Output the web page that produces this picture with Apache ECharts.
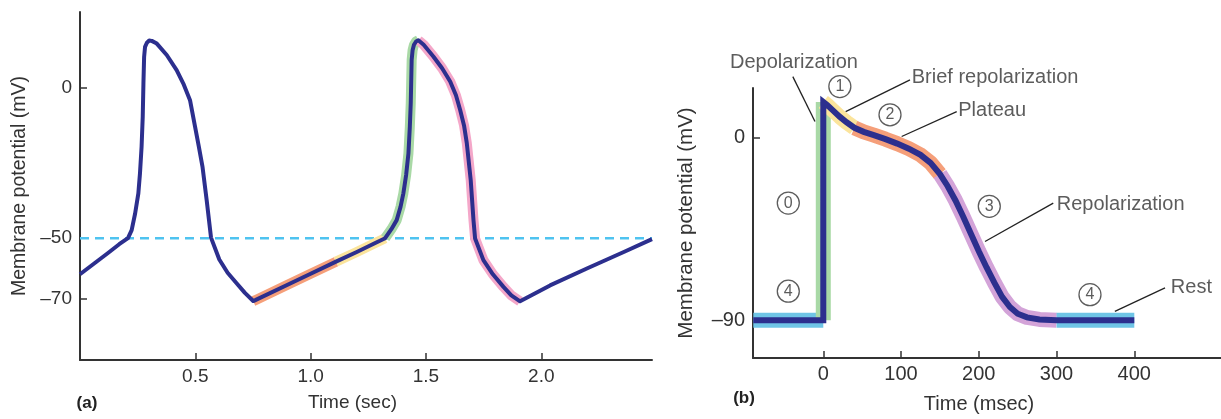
<!DOCTYPE html>
<html><head><meta charset="utf-8">
<script src="https://cdn.jsdelivr.net/npm/echarts@6/dist/echarts.min.js"></script>
<style>html,body{margin:0;padding:0;background:#fff}#c{width:1221px;height:419px}</style>
</head><body><div id="c"></div>
<script>
// ---------- Panel (a): pacemaker action potentials ----------
const aTime = [0,0.06,0.12,0.17,0.208,0.224,0.239,0.253,0.260,0.267,0.272,0.275,0.278,0.282,0.290,0.300,0.311,0.333,0.376,0.419,0.448,0.477,0.499,0.515,0.531,0.549,0.568,0.604,0.640,0.678,0.715,0.751,0.76,0.90,1.00,1.11,1.20,1.28,1.323,1.350,1.373,1.390,1.402,1.414,1.424,1.430,1.434,1.438,1.442,1.448,1.457,1.467,1.490,1.532,1.570,1.605,1.630,1.648,1.665,1.677,1.694,1.706,1.713,1.749,1.790,1.836,1.870,1.908,2.038,2.20,2.36,2.48];
const aPotential = [-62,-58.5,-55,-52,-50,-47.3,-41.8,-35.1,-28.5,-19.6,-9.6,1.4,10.3,13.6,15.0,15.7,15.6,14.7,10.9,5.9,1.4,-4.1,-13.0,-19.5,-26.2,-37.2,-49.8,-57.1,-61.5,-64.9,-68.2,-70.9,-70.6,-65.5,-61.8,-57.8,-54.6,-51.6,-50.0,-47,-44,-39.5,-35.1,-29,-21.8,-13,-5.1,9.3,12.5,14.3,15.4,15.8,14.3,10.4,6.5,2.1,-2.5,-7.3,-12.5,-18.4,-30.7,-44,-50.1,-57.3,-62.0,-66.2,-69.0,-71.0,-65.7,-60.0,-54.5,-50.3];
const aPhaseRanges = [[0.751,1.11],[1.11,1.323],[1.323,1.467],[1.467,1.908]]; // time ranges (sec)
const aThreshold = -50;
const aXRange = [0, 2.48];
const aYRange = [-90.5, 25.2];
const aXTicks = [0.5, 1.0, 1.5, 2.0];
const aYTicks = [0, -50, -70];

// ---------- Panel (b): ventricular action potential ----------
const bTime =      [-90,  0,   0,   5,  12,  21,  30,  40,  52,  65,  80,  95, 110, 125, 138, 150, 160, 170, 180, 190, 200, 210, 220, 230, 240, 250, 262, 278, 300, 400];
const bPotential = [-90,-90,17.5,16,13.5,10.3, 7.5, 4.8, 2.8, 1.2,-0.8,-3.0,-5.5,-8.5,-12.5,-18,-24,-31,-39,-47.5,-56,-64,-71.5,-78.5,-83.5,-86.8,-88.6,-89.6,-90,-90];
const bPhaseIndex = [[0,1],[1,2],[2,7],[7,15],[15,28],[28,29]]; // point index ranges: rest, depol, brief repol, plateau, repol, rest
const bXRange = [-90.4, 511.5];
const bYRange = [-108.6, 24.4];
const bXTicks = [0, 100, 200, 300, 400];
const bYTicks = [0, -90];
const bLabels = ['Depolarization', 'Brief repolarization', 'Plateau', 'Repolarization', 'Rest'];
const bLabelAt = [[-37.7, 37.2], [113.7, 29.6], [173.6, 13.2], [300.2, -33.1], [447, -73.7]];
const bLeaders = [
  [[-39.2, 30], [-10.7, 7.9]],
  [[28.8, 12.8], [111.5, 28.4]],
  [[100.8, 0.5], [171.6, 12.8]],
  [[208, -51.2], [295.8, -32.3]],
  [[375, -85.6], [439.5, -74.1]]
];
const bPhaseNames = ['0', '1', '2', '3', '4', '4'];
const bPhaseAt = [[-45, -32.3], [21.3, 25.1], [85.8, 11.2], [213.5, -33.9], [-45, -75.7], [343, -77.4]];

// ---------- styling ----------
const NAVY = '#2c2f8e';
const TXT = '#333333';
const FONT = "'Liberation Sans', Arial, Helvetica, sans-serif";
const aColors = ['#f59f7a', '#fbe49c', '#a9d9a6', '#f4a7c9'];
const bColors = ['#6fc5e6', '#a9d9a6', '#fbe49c', '#f59f7a', '#d3a3d8', '#6fc5e6'];

const zip = (xs, ys) => xs.map((x, i) => [x, ys[i]]);
const aData = zip(aTime, aPotential);
const bData = zip(bTime, bPotential);
const minus = v => (v < 0 ? '\u2013' + Math.abs(v) : String(v));

function axisCommon(ticks, fmt, margin, fs, nfs) {
  return {
    axisLine: { show: true, onZero: false, lineStyle: { color: TXT, width: 2 } },
    axisTick: { show: true, inside: true, length: 7, customValues: ticks, lineStyle: { color: TXT, width: 1.5 } },
    axisLabel: { customValues: ticks, formatter: fmt, fontSize: fs, color: TXT, fontFamily: FONT, margin: margin },
    splitLine: { show: false },
    nameLocation: 'middle',
    nameTextStyle: { fontSize: nfs, color: TXT, fontFamily: FONT }
  };
}

const series = [];
// threshold
series.push({
  type: 'line', xAxisIndex: 0, yAxisIndex: 0, symbol: 'none', z: 1,
  data: [[aXRange[0], aThreshold], [aXRange[1], aThreshold]],
  lineStyle: { color: '#4fc3f0', width: 2.5, type: [9, 6] }, silent: true
});
// panel a highlight bands
aPhaseRanges.forEach((r, k) => {
  series.push({
    type: 'line', xAxisIndex: 0, yAxisIndex: 0, symbol: 'none', z: 2, silent: true,
    data: aData.filter(p => p[0] >= r[0] && p[0] <= r[1]),
    lineStyle: { color: aColors[k], width: 10, join: 'round' }
  });
});
series.push({
  type: 'line', xAxisIndex: 0, yAxisIndex: 0, symbol: 'none', z: 3, silent: true,
  data: aData, lineStyle: { color: NAVY, width: 4, join: 'round' }
});
// panel b highlight bands
bPhaseIndex.forEach((r, k) => {
  series.push({
    type: 'line', xAxisIndex: 1, yAxisIndex: 1, symbol: 'none', z: 2, silent: true, clip: false,
    data: bData.slice(r[0], r[1] + 1),
    lineStyle: { color: bColors[k], width: 15, join: 'round' }
  });
});
series.push({
  type: 'line', xAxisIndex: 1, yAxisIndex: 1, symbol: 'none', z: 3, silent: true,
  data: bData, lineStyle: { color: NAVY, width: 6, join: 'miter' }
});
// leader lines for the annotations
bLeaders.forEach(l => {
  series.push({
    type: 'line', xAxisIndex: 1, yAxisIndex: 1, symbol: 'none', z: 4, silent: true, clip: false,
    data: l, lineStyle: { color: '#222', width: 1.3 }
  });
});
// annotation texts
series.push({
  type: 'scatter', xAxisIndex: 1, yAxisIndex: 1, symbolSize: 0, z: 5, clip: false, silent: true,
  data: bLabels.map((t, i) => ({ value: bLabelAt[i], name: t,
    label: { align: i === 0 ? 'center' : 'left' } })),
  label: { show: true, position: 'inside', formatter: p => p.name, fontSize: 20, color: TXT,
    fontFamily: FONT, verticalAlign: 'middle' }
});
// circled phase numbers
series.push({
  type: 'scatter', xAxisIndex: 1, yAxisIndex: 1, symbol: 'circle', symbolSize: 22, z: 6, clip: false, silent: true,
  data: bPhaseNames.map((n, i) => ({ value: bPhaseAt[i], name: n })),
  itemStyle: { color: '#fff', borderColor: '#333', borderWidth: 1.3 },
  label: { show: true, position: 'inside', formatter: p => p.name, fontSize: 16, color: TXT, fontFamily: FONT }
});

const option = {
  backgroundColor: '#fff',
  animation: false,
  grid: [
    { left: 80, top: 12, width: 572, height: 348 },
    { left: 753, top: 88, width: 468, height: 270.5 }
  ],
  xAxis: [
    Object.assign(axisCommon(aXTicks, v => v.toFixed(1), 7.5, 19, 19), {
      type: 'value', gridIndex: 0, min: aXRange[0], max: aXRange[1],
      name: 'Time (sec)', nameGap: 33 }),
    Object.assign(axisCommon(bXTicks, v => String(v), 6, 20, 20), {
      type: 'value', gridIndex: 1, min: bXRange[0], max: bXRange[1],
      name: 'Time (msec)', nameGap: 36 })
  ],
  yAxis: [
    Object.assign(axisCommon(aYTicks, minus, 8, 19, 19.5), {
      type: 'value', gridIndex: 0, min: aYRange[0], max: aYRange[1],
      name: 'Membrane potential (mV)', nameGap: 50 }),
    Object.assign(axisCommon(bYTicks, minus, 8, 20, 20.5), {
      type: 'value', gridIndex: 1, min: bYRange[0], max: bYRange[1],
      name: 'Membrane potential (mV)', nameGap: 56 })
  ],
  graphic: [
    { type: 'text', x: 87, y: 403, style: { text: '(a)', font: 'bold 17px ' + FONT, fill: '#222', align: 'center', verticalAlign: 'middle' } },
    { type: 'text', x: 744, y: 398, style: { text: '(b)', font: 'bold 17px ' + FONT, fill: '#222', align: 'center', verticalAlign: 'middle' } }
  ],
  series: series
};
// nudge x-axis titles to the positions in the reference
option.xAxis[0].nameTextStyle = Object.assign({}, option.xAxis[0].nameTextStyle, { padding: [0, 27, 0, 0] });
option.xAxis[1].nameTextStyle = Object.assign({}, option.xAxis[1].nameTextStyle, { padding: [0, 16, 0, 0] });

const chart = echarts.init(document.getElementById('c'), null, { renderer: 'canvas' });
chart.setOption(option);
</script>
</body></html>
